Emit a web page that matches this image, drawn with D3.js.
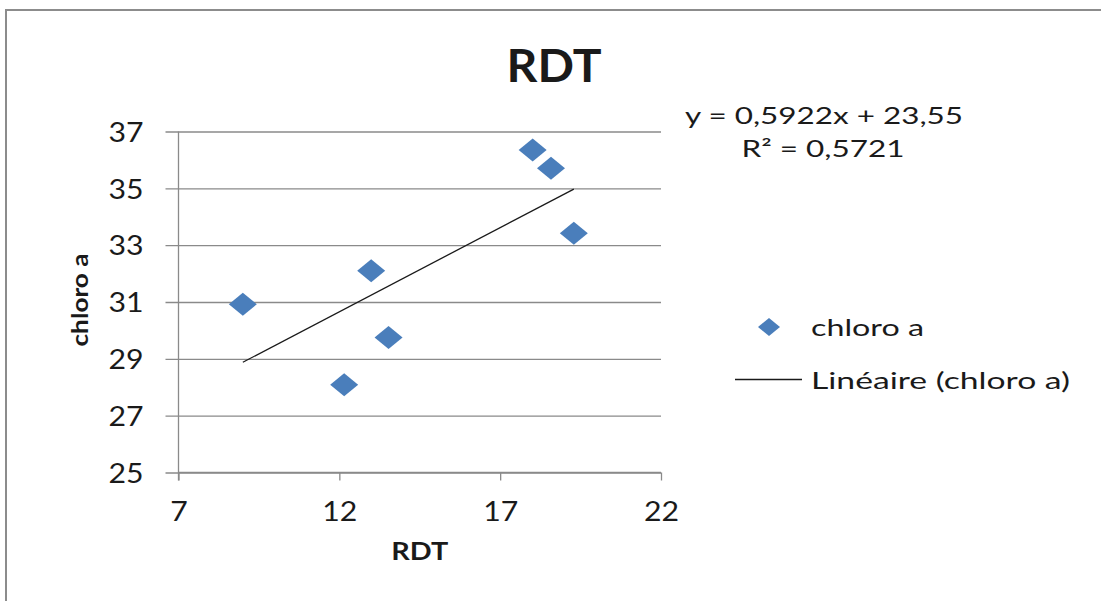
<!DOCTYPE html>
<html>
<head>
<meta charset="utf-8">
<script src="https://cdn.jsdelivr.net/npm/d3@7"></script>
<style>
  html, body { margin: 0; padding: 0; background: #fff; }
  svg { display: block; }
  text { font-family: Lato, "Open Sans", sans-serif; fill: #1a1a1a; }
</style>
</head>
<body>
<svg id="chart" width="1101" height="601"></svg>
<script>
// RDT (x) versus chlorophyll a (y)
const rdt     = [9.0, 12.15, 12.99, 13.53, 18.01, 18.58, 19.29];
const chloroA = [30.92, 28.09, 32.10, 29.75, 36.35, 35.71, 33.42];
const xTicks  = [7, 12, 17, 22];
const yTicks  = [25, 27, 29, 31, 33, 35, 37];
// linear trendline as reported by the spreadsheet
const trendSlope = 0.5922;
const trendIntercept = 23.55;
const rSquared = 0.5721;
const seriesName = "chloro a";
const trendName = "Linéaire (chloro a)";
const chartTitle = "RDT";
const xTitle = "RDT";
const yTitle = "chloro a";

const svg = d3.select("#chart");
const gridColor = "#8a8a8a";
const markerColor = "#4a7ebb";
const comma = v => String(v).replace(".", ",");

// chart frame (top and left edges)
svg.append("line").attr("x1", 5).attr("x2", 1101).attr("y1", 10).attr("y2", 10)
  .attr("stroke", "#8c8c8c").attr("stroke-width", 2);
svg.append("line").attr("x1", 6).attr("x2", 6).attr("y1", 10).attr("y2", 601)
  .attr("stroke", "#8c8c8c").attr("stroke-width", 2);

const x = d3.scaleLinear().domain([7, 22]).range([178.5, 661]);
const y = d3.scaleLinear().domain([25, 37]).range([472.5, 131.5]);

// horizontal gridlines with outward tick marks on the left
const yAxis = svg.append("g").attr("transform", `translate(${x(7)},0)`)
  .call(d3.axisLeft(y).tickValues(yTicks).tickSize(13).tickPadding(22).tickFormat(d => d));
yAxis.select(".domain").remove();
yAxis.selectAll(".tick line").attr("stroke", gridColor).attr("stroke-width", 1.3)
  .attr("x1", -13).attr("x2", x(22) - x(7));
yAxis.selectAll(".tick text").attr("font-size", 27).attr("fill", "#1a1a1a")
  .attr("dy", "0.36em").attr("transform", "scale(1.12,1)")
  .attr("x", -35 / 1.12);

// x axis with downward ticks
const xAxis = svg.append("g").attr("transform", `translate(0,${y(25)})`)
  .call(d3.axisBottom(x).tickValues(xTicks).tickSize(8).tickPadding(22).tickFormat(d => d));
xAxis.select(".domain").attr("stroke", gridColor).attr("stroke-width", 1.3)
  .attr("d", `M${x(7)},0H${x(22)}`);
xAxis.selectAll(".tick line").attr("stroke", gridColor).attr("stroke-width", 1.3);
xAxis.selectAll(".tick text").attr("font-size", 27).attr("fill", "#1a1a1a")
  .attr("dy", "0.36em").attr("y", 38.5).attr("transform", "scale(1.12,1)");

// vertical axis line
svg.append("line").attr("x1", x(7)).attr("x2", x(7))
  .attr("y1", y(37)).attr("y2", y(25) + 8)
  .attr("stroke", gridColor).attr("stroke-width", 1.3);

// trendline across the observed x range
const xExt = d3.extent(rdt);
svg.append("line")
  .attr("x1", x(xExt[0])).attr("y1", y(trendIntercept + trendSlope * xExt[0]))
  .attr("x2", x(xExt[1])).attr("y2", y(trendIntercept + trendSlope * xExt[1]))
  .attr("stroke", "#1a1a1a").attr("stroke-width", 1.3);

// diamond markers
const diamond = (w, h) => `M0,${-h / 2}L${w / 2},0L0,${h / 2}L${-w / 2},0Z`;
svg.append("g").selectAll("path").data(rdt.map((v, i) => [v, chloroA[i]])).join("path")
  .attr("d", diamond(28, 23))
  .attr("transform", d => `translate(${x(d[0])},${y(d[1])})`)
  .attr("fill", markerColor);

// titles
svg.append("text").text(chartTitle).attr("x", 554).attr("y", 66).attr("dy", "0.36em")
  .attr("text-anchor", "middle").attr("font-size", 45).attr("font-weight", "bold")
  .attr("fill", "#000").attr("textLength", 95).attr("lengthAdjust", "spacingAndGlyphs");
svg.append("text").text(xTitle).attr("x", (x(7) + x(22)) / 2).attr("y", 551).attr("dy", "0.36em")
  .attr("text-anchor", "middle").attr("font-size", 24).attr("font-weight", "bold")
  .attr("fill", "#000").attr("textLength", 57).attr("lengthAdjust", "spacingAndGlyphs");
svg.append("text").text(yTitle)
  .attr("transform", "translate(80,300) rotate(-90)").attr("dy", "0.36em")
  .attr("text-anchor", "middle").attr("font-size", 23).attr("font-weight", "bold")
  .attr("fill", "#000").attr("textLength", 93).attr("lengthAdjust", "spacingAndGlyphs");

// trendline equation
svg.append("text").text(`y = ${comma(trendSlope)}x + ${comma(trendIntercept)}`)
  .attr("x", 824).attr("y", 115).attr("dy", "0.36em").attr("text-anchor", "middle")
  .attr("font-size", 24).attr("textLength", 278).attr("lengthAdjust", "spacingAndGlyphs");
svg.append("text").text(`R² = ${comma(rSquared)}`)
  .attr("x", 823).attr("y", 148).attr("dy", "0.36em").attr("text-anchor", "middle")
  .attr("font-size", 24).attr("textLength", 163).attr("lengthAdjust", "spacingAndGlyphs");

// legend
const legend = svg.append("g");
legend.append("path").attr("d", diamond(22, 18)).attr("transform", "translate(769,327)")
  .attr("fill", markerColor);
legend.append("text").text(seriesName).attr("x", 811).attr("y", 327).attr("dy", "0.36em")
  .attr("font-size", 24).attr("textLength", 113).attr("lengthAdjust", "spacingAndGlyphs");
legend.append("line").attr("x1", 735).attr("x2", 802).attr("y1", 379.5).attr("y2", 379.5)
  .attr("stroke", "#1a1a1a").attr("stroke-width", 1.3);
legend.append("text").text(trendName).attr("x", 811).attr("y", 380).attr("dy", "0.36em")
  .attr("font-size", 24).attr("textLength", 259).attr("lengthAdjust", "spacingAndGlyphs");
</script>
</body>
</html>
